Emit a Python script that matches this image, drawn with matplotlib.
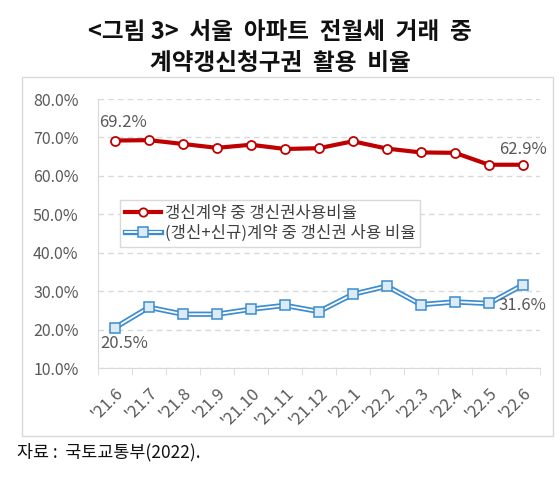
import numpy as np
import matplotlib
matplotlib.use("Agg")
import matplotlib.pyplot as plt
from matplotlib.patches import Rectangle
from matplotlib.lines import Line2D

plt.rcParams['font.family'] = ['Noto Sans CJK KR', 'DejaVu Sans']

months = ["'21.6", "'21.7", "'21.8", "'21.9", "'21.10", "'21.11", "'21.12",
          "'22.1", "'22.2", "'22.3", "'22.4", "'22.5", "'22.6"]
renewal_share = [69.2, 69.3, 68.3, 67.3, 68.1, 67.0, 67.2, 69.0, 67.1, 66.1, 66.0, 62.9, 62.9]
total_share = [20.5, 25.8, 24.0, 24.0, 25.3, 26.3, 24.7, 29.2, 31.3, 26.5, 27.2, 26.8, 31.6]

red = '#C00000'
blue = '#3C8DD0'
gray = '#595959'

fig = plt.figure(figsize=(5.6, 4.8), dpi=100)

# outer gray frame of the chart
fig.patches.append(Rectangle((0.039, 0.092), 0.949, 0.748, transform=fig.transFigure,
                             fill=False, edgecolor='#D9D9D9', linewidth=1))

fig.text(0.5, 0.933, '<그림 3>  서울  아파트  전월세  거래  중', ha='center', va='center',
         fontsize=17, fontweight='bold', color='#111111')
fig.text(0.5, 0.868, '계약갱신청구권  활용  비율', ha='center', va='center',
         fontsize=17, fontweight='bold', color='#111111')
fig.text(0.03, 0.058, '자료 :  국토교통부(2022).', ha='left', va='center',
         fontsize=12.5, color='#111111')

ax = fig.add_axes([0.175, 0.2333, 0.789, 0.5604])
x = np.arange(len(months))

ax.plot(x, renewal_share, color=red, lw=3, marker='o', ms=6.5,
        mfc='white', mec=red, mew=1.3, zorder=4)
# blue double line: thick blue then thin white core
ax.plot(x, total_share, color=blue, lw=3.8, zorder=3)
ax.plot(x, total_share, color='white', lw=1.3, marker='s', ms=7,
        mfc='#DDEBF7', mec=blue, mew=1.1, zorder=4)

ax.set_xlim(-0.5, len(months) - 0.5)
ax.set_ylim(10, 80)
ax.set_yticks(np.arange(10, 81, 10))
ax.set_yticklabels([f'{v:.1f}%' for v in np.arange(10, 81, 10)])
ax.tick_params(axis='y', length=0, pad=14, labelsize=11.5, labelcolor=gray)

ax.set_xticks(x)
ax.set_xticklabels(months, rotation=45, ha='right', rotation_mode='anchor')
ax.tick_params(axis='x', which='major', length=0, pad=12, labelsize=12, labelcolor=gray)
ax.set_xticks(np.arange(-0.5, len(months), 1), minor=True)
ax.tick_params(axis='x', which='minor', length=5, color='#D9D9D9', direction='out')

ax.grid(axis='y', linestyle=(0, (4, 3)), color='#D9D9D9', lw=1)
for s in ['top', 'right']:
    ax.spines[s].set_visible(False)
for s in ['left', 'bottom']:
    ax.spines[s].set_color('#D9D9D9')
ax.set_axisbelow(True)

ax.annotate(f'{renewal_share[0]}%', (x[0], renewal_share[0]), xytext=(6, 13),
            textcoords='offset points', ha='center', va='center', fontsize=12, color=gray)
ax.annotate(f'{renewal_share[-1]}%', (x[-1], renewal_share[-1]), xytext=(0, 11),
            textcoords='offset points', ha='center', va='center', fontsize=12, color=gray)
ax.annotate(f'{total_share[0]}%', (x[0], total_share[0]), xytext=(6.5, -11.5),
            textcoords='offset points', ha='center', va='center', fontsize=12, color=gray)
ax.annotate(f'{total_share[-1]}%', (x[-1], total_share[-1]), xytext=(0, -15),
            textcoords='offset points', ha='center', va='center', fontsize=12, color=gray)

h1 = Line2D([], [], color=red, lw=3, marker='o', ms=6, mfc='white', mec=red, mew=1.3)
h2a = Line2D([], [], color=blue, lw=3.8)
h2b = Line2D([], [], color='white', lw=1.3, marker='s', ms=6.5, mfc='#DDEBF7', mec=blue, mew=1.1)
leg = ax.legend([h1, (h2a, h2b)], ['갱신계약 중 갱신권사용비율', '(갱신+신규)계약 중 갱신권 사용 비율'],
                loc='upper left', bbox_to_anchor=(0.03, 0.655), fontsize=12,
                handlelength=2.2, handletextpad=0.2, borderpad=0.3, labelspacing=0.15,
                fancybox=False, edgecolor='#D9D9D9', framealpha=1, labelcolor='#404040')
leg.get_frame().set_linewidth(1)

fig.savefig('out.png', dpi=100)
